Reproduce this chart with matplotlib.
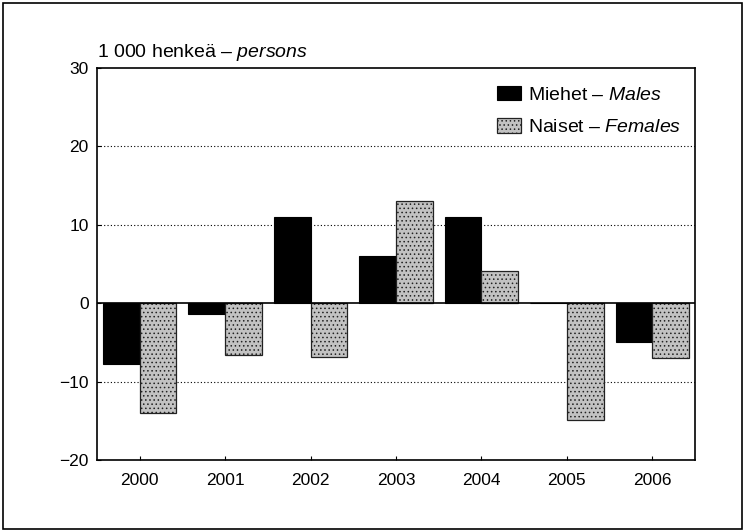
import numpy as np
import matplotlib.pyplot as plt
from matplotlib.patches import Rectangle

plt.rcParams["font.family"] = ["Liberation Sans", "DejaVu Sans"]
plt.rcParams["mathtext.fontset"] = "custom"
plt.rcParams["mathtext.rm"] = "Liberation Sans"
plt.rcParams["mathtext.it"] = "Liberation Sans:italic"
plt.rcParams["hatch.color"] = "#7a7a7a"
plt.rcParams["hatch.linewidth"] = 0.6

years = ["2000", "2001", "2002", "2003", "2004", "2005", "2006"]
males = [-7.7, -1.4, 11.0, 6.0, 11.0, 0.0, -5.0]
females = [-14.0, -6.6, -6.9, 13.0, 4.1, -14.9, -7.0]
yticks = [-20, -10, 0, 10, 20, 30]

fig = plt.figure(figsize=(7.44, 5.32), dpi=100)
ax = fig.add_axes([0.1304, 0.1353, 0.8037, 0.7369])

x = np.arange(len(years))
w = 0.43
ax.bar(x - w / 2, males, w, color="black", edgecolor="black", linewidth=0.8,
       label=r"Miehet – $\mathit{Males}$", zorder=3)
ax.bar(x + w / 2, females, w, color="#c2c2c2", edgecolor="#222222", linewidth=0.9,
       hatch="....", label=r"Naiset – $\mathit{Females}$", zorder=3)

ax.set_xlim(-0.5, len(years) - 0.5)
ax.set_ylim(-20, 30)
ax.set_yticks(yticks)
ax.set_xticks(x)
ax.set_xticklabels(years)
for v in [-10, 10, 20]:
    ax.axhline(v, color="black", linestyle=(0, (1, 2)), linewidth=0.8, zorder=1)
ax.axhline(0, color="black", linewidth=1.2, zorder=4)

ax.tick_params(axis="both", direction="in", length=3, labelsize=12.5, width=0.8)
ax.tick_params(axis="x", pad=9)
ax.tick_params(axis="y", pad=6)
for s in ax.spines.values():
    s.set_linewidth(1.2)

ax.text(0.0, 1.012, r"1 000 henkeä – $\mathit{persons}$", transform=ax.transAxes,
        fontsize=14, ha="left", va="bottom")

leg = ax.legend(loc="upper right", frameon=False, fontsize=14,
                handlelength=1.25, handleheight=0.8, handletextpad=0.35,
                labelspacing=0.75, borderaxespad=0.3,
                bbox_to_anchor=(1.0, 0.99))

fig.patches.append(Rectangle((0.004, 0.006), 0.993, 0.988, transform=fig.transFigure,
                             fill=False, edgecolor="black", linewidth=1.2))

plt.savefig("out.png", dpi=100)
plt.close()
